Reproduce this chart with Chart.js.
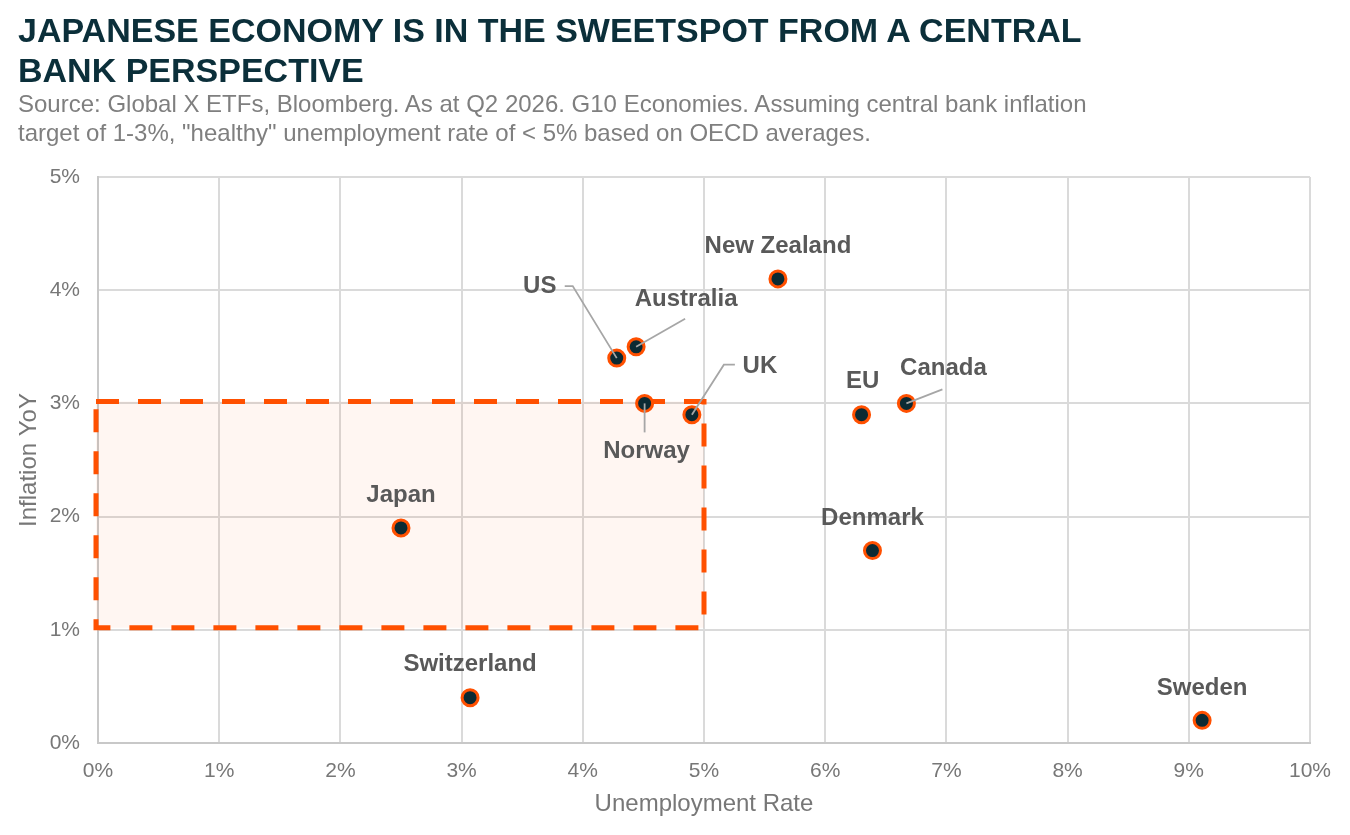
<!DOCTYPE html>
<html>
<head>
<meta charset="utf-8">
<script src="https://cdn.jsdelivr.net/npm/chart.js@4.4.1/dist/chart.umd.min.js"></script>
<style>
  body { margin: 0; background: #fff; font-family: "Liberation Sans", Arial, sans-serif; }
  #wrap { position: relative; width: 1350px; height: 835px; }
  #titolo { position: absolute; left: 18px; top: 10px; margin: 0; font-size: 34px; line-height: 40px; font-weight: bold; color: #0b2f3a; z-index: 2; white-space: nowrap; }
  #sottotitolo { position: absolute; left: 18px; top: 89px; margin: 0; font-size: 24px; line-height: 29px; color: #7f7f7f; z-index: 2; white-space: nowrap; }
  #box { position: absolute; left: 0; top: 0; width: 1350px; height: 835px; }
</style>
</head>
<body>
<div id="wrap">
  <h1 id="titolo">JAPANESE ECONOMY IS IN THE SWEETSPOT FROM A CENTRAL<br>BANK PERSPECTIVE</h1>
  <p id="sottotitolo">Source: Global X ETFs, Bloomberg. As at Q2 2026. G10 Economies. Assuming central bank inflation<br>target of 1-3%, "healthy" unemployment rate of &lt; 5% based on OECD averages.</p>
  <div id="box"><canvas id="grafico"></canvas></div>
</div>
<script>
// dati
var paesi = ["Japan", "Switzerland", "US", "Australia", "Norway", "UK", "New Zealand", "EU", "Canada", "Denmark", "Sweden"];
var disoccupazione = [2.5, 3.07, 4.28, 4.44, 4.51, 4.9, 5.61, 6.3, 6.67, 6.39, 9.11];
var inflazione = [1.9, 0.4, 3.4, 3.5, 3.0, 2.9, 4.1, 2.9, 3.0, 1.7, 0.2];

// zona "sweetspot"
var zonaX = [0, 5];
var zonaY = [1, 3];

// posizione etichette rispetto al punto (pixel)
var posEtichette = [
    {dx: 0, dy: -33},
    {dx: 0, dy: -33},
    {dx: -77, dy: -72, linea: [[-44, -72], [-52, -72]]},
    {dx: 50, dy: -47, linea: [[49, -28]]},
    {dx: 2, dy: 48, linea: [[0, 29]]},
    {dx: 68, dy: -48, linea: [[32, -50], [43, -50]]},
    {dx: 0, dy: -33},
    {dx: 1, dy: -33},
    {dx: 37, dy: -35, linea: [[36, -14]]},
    {dx: 0, dy: -32},
    {dx: 0, dy: -32}
];

var punti = paesi.map((p, i) => ({x: disoccupazione[i], y: inflazione[i]}));

const pluginZona = {
    id: "zona",
    beforeDatasetsDraw(chart){
        const ctx = chart.ctx;
        const sx = chart.scales.x, sy = chart.scales.y;
        const x0 = sx.getPixelForValue(zonaX[0]) - 2;
        const x1 = sx.getPixelForValue(zonaX[1]);
        const y0 = sy.getPixelForValue(zonaY[1]) - 2;
        const y1 = sy.getPixelForValue(zonaY[0]) - 2;
        ctx.save();
        ctx.fillStyle = "rgba(255, 80, 0, 0.05)";
        ctx.fillRect(x0, y0, x1 - x0, y1 - y0);
        ctx.strokeStyle = "#ff5000";
        ctx.lineWidth = 5;
        ctx.setLineDash([23, 19]);
        ctx.strokeRect(x0, y0, x1 - x0, y1 - y0);
        ctx.restore();
    }
};

const pluginEtichette = {
    id: "etichette",
    afterDatasetsDraw(chart){
        const ctx = chart.ctx;
        const meta = chart.getDatasetMeta(0);
        ctx.save();
        for (var i = 0; i < meta.data.length; i++){
            const el = meta.data[i];
            const pos = posEtichette[i];
            if (pos.linea){
                ctx.strokeStyle = "#a6a6a6";
                ctx.lineWidth = 1.8;
                ctx.beginPath();
                ctx.moveTo(el.x, el.y);
                pos.linea.forEach(pt => ctx.lineTo(el.x + pt[0], el.y + pt[1]));
                ctx.stroke();
            }
            ctx.fillStyle = "#595959";
            ctx.font = "bold 24px 'Liberation Sans', Arial, sans-serif";
            ctx.textAlign = "center";
            ctx.textBaseline = "middle";
            ctx.fillText(paesi[i], el.x + pos.dx, el.y + pos.dy);
        }
        ctx.restore();
    }
};

const famiglia = "'Liberation Sans', Arial, sans-serif";

const context = document.getElementById("grafico").getContext("2d");
const chart = new Chart(context, {
    type: "scatter",
    data: {
        datasets: [{
            label: "G10",
            data: punti,
            backgroundColor: "#0b2a33",
            borderColor: "#ff5000",
            borderWidth: 3,
            pointRadius: 8,
            pointHoverRadius: 8
        }]
    },
    options: {
        responsive: true,
        maintainAspectRatio: false,
        animation: false,
        events: [],
        layout: {
            padding: {top: 177, right: 40, left: 0, bottom: 0}
        },
        plugins: {
            legend: {display: false},
            tooltip: {enabled: false}
        },
        scales: {
            x: {
                type: "linear",
                min: 0,
                max: 10,
                afterFit: (s) => { s.height = 92; },
                ticks: {
                    stepSize: 1,
                    padding: 16,
                    color: "#777777",
                    font: {family: famiglia, size: 21},
                    callback: v => v + "%"
                },
                grid: {color: "#dadada", lineWidth: 2, drawTicks: false},
                border: {color: "#c8c8c8", width: 2},
                title: {
                    display: true,
                    text: "Unemployment Rate",
                    color: "#777777",
                    font: {family: famiglia, size: 24},
                    padding: {top: 0, bottom: 16}
                }
            },
            y: {
                type: "linear",
                min: 0,
                max: 5,
                afterFit: (s) => { s.width = 98; },
                ticks: {
                    stepSize: 1,
                    padding: 18,
                    color: "#777777",
                    font: {family: famiglia, size: 21},
                    callback: v => v + "%"
                },
                grid: {color: "#dadada", lineWidth: 2, drawTicks: false},
                border: {color: "#c8c8c8", width: 2},
                title: {
                    display: true,
                    text: "Inflation YoY",
                    color: "#777777",
                    font: {family: famiglia, size: 24},
                    padding: {top: 15, bottom: 0}
                }
            }
        }
    },
    plugins: [pluginZona, pluginEtichette]
});
</script>
</body>
</html>
